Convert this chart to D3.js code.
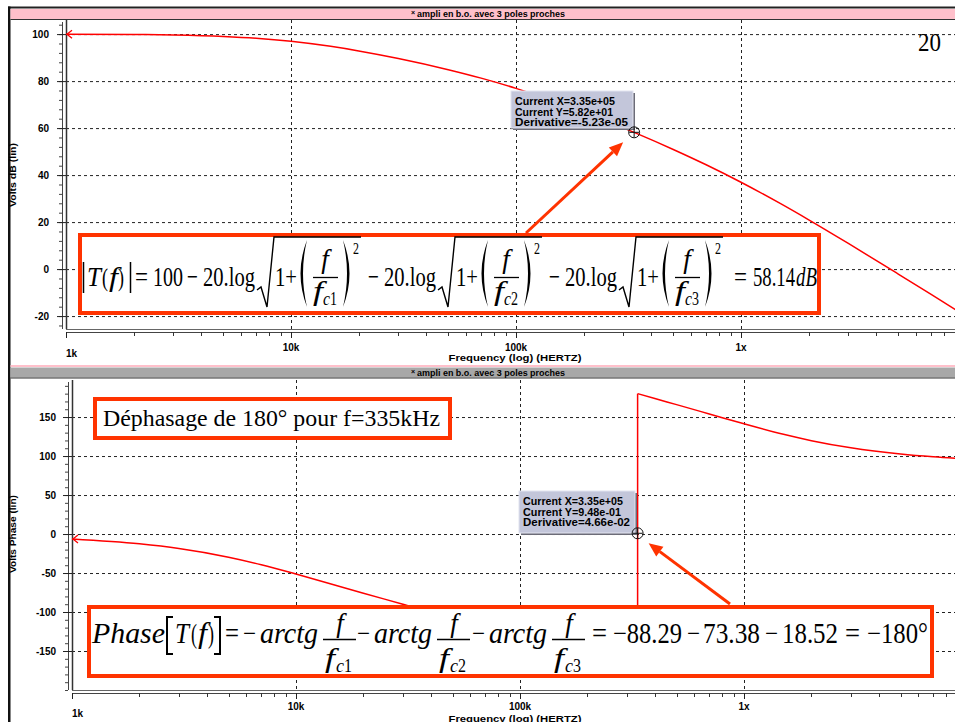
<!DOCTYPE html>
<html>
<head>
<meta charset="utf-8">
<script src="https://cdn.jsdelivr.net/npm/d3@7"></script>
<style>
  body { margin: 0; background: #fff; }
  svg { display: block; }
</style>
</head>
<body>
<svg id="chart" width="955" height="722"></svg>
<script>
// valeurs (ampli en b.o., 3 poles)
const freqs = [1e3, 2e3, 3e3, 5e3, 7e3, 1e4, 1.5e4, 2e4, 3e4, 5e4, 7e4, 1e5, 1.5e5, 2e5, 3.35e5, 5e5, 7e5, 1e6, 1.5e6, 2e6, 3e6, 5e6, 7e6, 1e7];
const gainDb = [99.96, 99.83, 99.62, 99.02, 98.25, 96.95, 94.78, 92.84, 89.62, 84.87, 81.26, 76.91, 71.24, 66.81, 58.17, 50.90, 44.38, 36.95, 27.82, 20.96, 10.91, -2.11, -10.79, -20.04];

const phaseFreqsLow = [1e3, 2e3, 3e3, 5e3, 7e3, 1e4, 1.5e4, 2e4, 3e4, 5e4, 7e4, 1e5, 1.5e5, 2e5, 2.5e5, 3e5, 3.35e5];
const phaseLow = [-6.34, -12.57, -18.59, -29.72, -39.39, -51.28, -65.70, -75.89, -89.99, -108.12, -120.86, -135.00, -151.03, -161.88, -169.95, -176.36, -180.0];
const phaseFreqsHigh = [3.35e5, 4e5, 5e5, 7e5, 1e6, 1.5e6, 2e6, 3e6, 5e6, 7e6, 1e7];
const phaseHigh = [180.0, 173.67, 165.89, 153.96, 141.28, 127.88, 119.72, 110.53, 102.57, 99.03, 96.34];

const cursorFreq = 3.35e5;
const cursorGain = 58.2;
const cursorPhase = 0.948;
const cursorGainText = ['Current X=3.35e+05', 'Current Y=5.82e+01', 'Derivative=-5.23e-05'];
const cursorPhaseText = ['Current X=3.35e+05', 'Current Y=9.48e-01', 'Derivative=4.66e-02'];

const gainTicks = [100, 80, 60, 40, 20, 0, -20];
const phaseTicks = [150, 100, 50, 0, -50, -100, -150];
const decadeTicks = [1e3, 1e4, 1e5, 1e6, 1e7];
const decadeLabels = ['1k', '10k', '100k', '1x', '10x'];
const titleText = 'ampli en b.o. avec 3 poles proches';

const RED = '#ff0000', ORANGE = '#ff3300';
const sans = 'Liberation Sans, Arial, Helvetica, sans-serif';
const serif = 'Liberation Serif, Times New Roman, serif';

const svg = d3.select('#chart');
svg.append('rect').attr('width', 955).attr('height', 722).attr('fill', '#fff');

function tx(g, x, y, s, o) {
    o = o || {};
    const t = g.append('text')
        .attr('x', x).attr('y', y)
        .attr('font-family', o.fam || serif)
        .attr('font-size', o.size || 28)
        .attr('font-style', o.it ? 'italic' : null)
        .attr('font-weight', o.bold ? 'bold' : null)
        .attr('text-anchor', o.anchor || null)
        .attr('fill', o.fill || '#000')
        .text(s);
    if (o.w) t.attr('textLength', o.w).attr('lengthAdjust', 'spacingAndGlyphs');
    return t;
}

// cadre de la fenetre
svg.append('rect').attr('x', 8).attr('y', 6.5).attr('width', 947).attr('height', 2).attr('fill', '#222');
svg.append('rect').attr('x', 8).attr('y', 6.5).attr('width', 2.5).attr('height', 716).attr('fill', '#111');

function titleBar(yTop, fill) {
    svg.append('rect').attr('x', 10.5).attr('y', yTop).attr('width', 945).attr('height', 10).attr('fill', fill);
    svg.append('line').attr('x1', 10.5).attr('x2', 955).attr('y1', yTop + 10.5).attr('y2', yTop + 10.5)
        .attr('stroke', '#333').attr('stroke-width', 1);
    tx(svg, 411, yTop + 6, '×', {fam: sans, size: 7, bold: true});
    tx(svg, 417, yTop + 8, titleText, {fam: sans, size: 9, bold: true, w: 148});
}

function drawPanel(p) {
    const x = d3.scaleLog().domain([1e3, 1e7]).range(p.xRange);
    const y = d3.scaleLinear().domain(p.yDomain).range([p.plotBottom, p.plotTop]);
    const g = svg.append('g');

    // grille
    g.selectAll('line.hgrid').data(p.ticks).join('line')
        .attr('x1', p.plotLeft).attr('x2', 955)
        .attr('y1', d => y(d) + 0.5).attr('y2', d => y(d) + 0.5)
        .attr('stroke', '#222').attr('stroke-dasharray', '3,3');
    g.selectAll('line.vgrid').data(decadeTicks.slice(1, 4)).join('line')
        .attr('x1', d => Math.round(x(d)) + 0.5).attr('x2', d => Math.round(x(d)) + 0.5)
        .attr('y1', p.plotTop).attr('y2', p.plotBottom)
        .attr('stroke', '#222').attr('stroke-dasharray', '3,3');

    // bord du trace
    g.append('line').attr('x1', p.plotLeft + 0.5).attr('x2', p.plotLeft + 0.5)
        .attr('y1', p.plotTop).attr('y2', p.plotBottom).attr('stroke', '#333').attr('stroke-width', 1.5);
    g.append('line').attr('x1', p.plotLeft).attr('x2', 955)
        .attr('y1', p.plotBottom + 0.5).attr('y2', p.plotBottom + 0.5).attr('stroke', '#666');

    // axe y
    g.append('line').attr('x1', p.axisX + 0.5).attr('x2', p.axisX + 0.5)
        .attr('y1', p.plotTop + 2).attr('y2', p.plotBottom).attr('stroke', '#444');
    const minorVals = d3.range(Math.ceil(p.yDomain[0] / p.minor) * p.minor, p.yDomain[1], p.minor);
    g.selectAll('line.ymin').data(minorVals).join('line')
        .attr('x1', p.axisX - 3).attr('x2', p.axisX)
        .attr('y1', d => y(d) + 0.5).attr('y2', d => y(d) + 0.5).attr('stroke', '#444');
    g.selectAll('line.ymaj').data(p.ticks).join('line')
        .attr('x1', p.axisX - 5).attr('x2', p.plotLeft)
        .attr('y1', d => y(d) + 0.5).attr('y2', d => y(d) + 0.5).attr('stroke', '#222');
    g.selectAll('text.ylab').data(p.ticks).join('text')
        .attr('x', p.labelRight).attr('y', d => y(d) + 4)
        .attr('text-anchor', 'end').attr('font-family', sans).attr('font-size', 10)
        .attr('font-weight', 'bold').text(d => d);
    g.append('text')
        .attr('transform', `translate(${p.yTitleX},${p.yTitleY}) rotate(-90)`)
        .attr('text-anchor', 'middle').attr('font-family', sans).attr('font-size', 9)
        .attr('font-weight', 'bold').attr('textLength', p.yTitleLen).attr('lengthAdjust', 'spacingAndGlyphs')
        .text(p.yTitle);

    // axe x
    g.append('line').attr('x1', p.plotLeft).attr('x2', 955)
        .attr('y1', p.axisY + 0.5).attr('y2', p.axisY + 0.5).attr('stroke', '#444');
    const minorX = [];
    decadeTicks.slice(0, 4).forEach(dec => { for (let k = 2; k < 10; k++) minorX.push(dec * k); });
    g.selectAll('line.xmin').data(minorX).join('line')
        .attr('x1', d => Math.round(x(d)) + 0.5).attr('x2', d => Math.round(x(d)) + 0.5)
        .attr('y1', p.axisY).attr('y2', p.axisY + 4).attr('stroke', '#333');
    g.selectAll('line.xmaj').data(decadeTicks).join('line')
        .attr('x1', d => Math.round(x(d)) + 0.5).attr('x2', d => Math.round(x(d)) + 0.5)
        .attr('y1', p.axisY).attr('y2', p.axisY + 6).attr('stroke', '#222');
    g.selectAll('text.xlab').data(decadeTicks).join('text')
        .attr('x', d => x(d))
        .attr('y', (d, i) => i === 0 ? p.firstLabelY : p.xLabelY)
        .attr('text-anchor', (d, i) => i === 0 ? 'start' : 'middle')
        .attr('font-family', sans).attr('font-size', 10).attr('font-weight', 'bold')
        .text((d, i) => decadeLabels[i]);
    g.append('text').attr('x', 515).attr('y', p.freqLabelY).attr('text-anchor', 'middle')
        .attr('font-family', sans).attr('font-size', 9).attr('font-weight', 'bold')
        .attr('textLength', 133).attr('lengthAdjust', 'spacingAndGlyphs')
        .text('Frequency (log) (HERTZ)');

    const clipId = 'clip' + p.plotTop;
    svg.append('clipPath').attr('id', clipId).append('rect')
        .attr('x', p.plotLeft).attr('y', p.plotTop).attr('width', 955 - p.plotLeft).attr('height', p.plotBottom - p.plotTop);
    const curves = svg.append('g').attr('clip-path', `url(#${clipId})`);
    return {x, y, g, curves};
}

function cursorBox(bx, by, bw, bh, lines, widths, cx, cy) {
    const g = svg.append('g');
    g.append('rect').attr('x', bx + 2).attr('y', by + 2).attr('width', bw).attr('height', bh).attr('fill', '#6c6c78');
    g.append('rect').attr('x', bx).attr('y', by).attr('width', bw).attr('height', bh)
        .attr('fill', '#c3c6da').attr('stroke', '#e2e4f0').attr('stroke-width', 1);
    lines.forEach((s, i) => {
        tx(g, bx + 4, by + 14 + i * 10.5, s, {fam: sans, size: 10, bold: true, w: widths[i]});
    });
    g.append('circle').attr('cx', cx).attr('cy', cy).attr('r', 5.5).attr('fill', 'none').attr('stroke', '#111');
    g.append('line').attr('x1', cx - 5).attr('x2', cx + 5).attr('y1', cy).attr('y2', cy).attr('stroke', '#111');
    g.append('line').attr('x1', cx).attr('x2', cx).attr('y1', cy - 5).attr('y2', cy + 5).attr('stroke', '#111');
}

function arrow(x1, y1, x2, y2) {
    const a = Math.atan2(y2 - y1, x2 - x1), L = 14, W = 6;
    const bx = x2 - L * Math.cos(a), by = y2 - L * Math.sin(a);
    svg.append('line').attr('x1', x1).attr('y1', y1).attr('x2', bx).attr('y2', by)
        .attr('stroke', ORANGE).attr('stroke-width', 3);
    const px = -Math.sin(a) * W, py = Math.cos(a) * W;
    svg.append('path').attr('d', `M${x2},${y2} L${bx + px},${by + py} L${bx - px},${by - py} Z`).attr('fill', ORANGE);
}

function paren(g, x, y0, y1, right) {
    const m = (y0 + y1) / 2;
    const d = right
        ? `M${x + 1},${y0} Q${x + 14},${m} ${x + 1},${y1} Q${x + 9},${m} ${x + 1},${y0} Z`
        : `M${x + 9},${y0} Q${x - 4},${m} ${x + 9},${y1} Q${x + 1},${m} ${x + 9},${y0} Z`;
    g.append('path').attr('d', d).attr('fill', '#000');
}

function startArrow(g, x0, y0) {
    g.append('path').attr('d', `M${x0 + 6},${y0 - 4} L${x0 + 1},${y0} L${x0 + 6},${y0 + 4}`)
        .attr('fill', 'none').attr('stroke', RED).attr('stroke-width', 1.3);
}

// ---------- panneau haut : gain ----------
titleBar(9, '#ffc0cb');
const gainPanel = drawPanel({
    plotLeft: 66, axisX: 62, plotTop: 20, plotBottom: 329, axisY: 332,
    xRange: [66, 966], yDomain: [-25.5, 106], ticks: gainTicks, minor: 4, labelRight: 49,
    yTitle: 'Volts dB (lin)', yTitleX: 16, yTitleY: 175, yTitleLen: 64,
    xLabelY: 351, firstLabelY: 357, freqLabelY: 361
});
const gainLine = d3.line().x((d, i) => gainPanel.x(freqs[i])).y(d => gainPanel.y(d)).curve(d3.curveMonotoneX);
gainPanel.curves.append('path').datum(gainDb).attr('d', gainLine)
    .attr('fill', 'none').attr('stroke', RED).attr('stroke-width', 1.5);
startArrow(svg, gainPanel.x(freqs[0]), gainPanel.y(gainDb[0]));

// ---------- panneau bas : phase ----------
svg.append('rect').attr('x', 10.5).attr('y', 365).attr('width', 945).attr('height', 2).attr('fill', '#ffc0cb');
titleBar(367.5, '#a8a8a8');
const phasePanel = drawPanel({
    plotLeft: 72, axisX: 68, plotTop: 380, plotBottom: 690, axisY: 693,
    xRange: [72, 968], yDomain: [-200, 197.5], ticks: phaseTicks, minor: 10, labelRight: 56,
    yTitle: 'Volts Phase (lin)', yTitleX: 16, yTitleY: 534, yTitleLen: 78,
    xLabelY: 710, firstLabelY: 717, freqLabelY: 722
});
const phaseLineLow = d3.line().x((d, i) => phasePanel.x(phaseFreqsLow[i])).y(d => phasePanel.y(d)).curve(d3.curveMonotoneX);
const phaseLineHigh = d3.line().x((d, i) => phasePanel.x(phaseFreqsHigh[i])).y(d => phasePanel.y(d)).curve(d3.curveMonotoneX);
phasePanel.curves.append('path').datum(phaseLow).attr('d', phaseLineLow)
    .attr('fill', 'none').attr('stroke', RED).attr('stroke-width', 1.5);
phasePanel.curves.append('path').datum(phaseHigh).attr('d', phaseLineHigh)
    .attr('fill', 'none').attr('stroke', RED).attr('stroke-width', 1.5);
phasePanel.curves.append('line')
    .attr('x1', phasePanel.x(phaseFreqsLow[phaseFreqsLow.length - 1])).attr('y1', phasePanel.y(phaseLow[phaseLow.length - 1]))
    .attr('x2', phasePanel.x(phaseFreqsHigh[0])).attr('y2', phasePanel.y(phaseHigh[0]))
    .attr('stroke', RED).attr('stroke-width', 1.5);
startArrow(svg, phasePanel.x(phaseFreqsLow[0]), phasePanel.y(phaseLow[0]));

// ---------- curseurs ----------
const cgx = gainPanel.x(cursorFreq), cgy = gainPanel.y(cursorGain);
cursorBox(511, 91, 122, 37, cursorGainText, [100, 98, 113], cgx, cgy);
const cpx = phasePanel.x(cursorFreq), cpy = phasePanel.y(cursorPhase);
cursorBox(519, 491, 116, 42, cursorPhaseText, [100, 98, 107], cpx, cpy);

// ---------- formule du module ----------
const f1 = svg.append('g');
f1.append('rect').attr('x', 80).attr('y', 235).attr('width', 739).attr('height', 78)
    .attr('fill', '#fff').attr('stroke', ORANGE).attr('stroke-width', 4);
f1.append('line').attr('x1', 83.5).attr('x2', 83.5).attr('y1', 262).attr('y2', 293).attr('stroke', '#000').attr('stroke-width', 1.5);
tx(f1, 87, 286, 'T', {it: true, w: 14});
tx(f1, 102, 286, '(', {size: 26, w: 6});
tx(f1, 109, 286, 'f', {it: true, w: 9});
tx(f1, 118, 286, ')', {size: 26, w: 6});
f1.append('line').attr('x1', 130.5).attr('x2', 130.5).attr('y1', 262).attr('y2', 293).attr('stroke', '#000').attr('stroke-width', 1.5);
tx(f1, 135, 286, '=', {w: 13});
tx(f1, 153, 286, '100', {w: 30});

function gainTerm(s, idx) {
    tx(f1, s, 286, '−', {w: 11});
    tx(f1, s + 16, 286, '20.log', {w: 52});
    f1.append('path').attr('d', `M${s + 70},290 L${s + 74},287 L${s + 80},307 L${s + 87},237 L${s + 174},237`)
        .attr('fill', 'none').attr('stroke', '#000').attr('stroke-width', 1.4);
    tx(f1, s + 88, 286, '1+', {w: 22});
    paren(f1, s + 111, 240, 307, false);
    tx(f1, s + 138, 268, 'f', {it: true, size: 27, anchor: 'middle'});
    f1.append('line').attr('x1', s + 126).attr('x2', s + 151).attr('y1', 277.5).attr('y2', 277.5)
        .attr('stroke', '#000').attr('stroke-width', 1.3);
    tx(f1, s + 126, 300, 'f', {it: true, size: 27, w: 10});
    tx(f1, s + 136, 305, 'c', {it: true, size: 18, w: 7});
    tx(f1, s + 143, 305, String(idx), {size: 18, w: 7});
    paren(f1, s + 155, 240, 307, true);
    tx(f1, s + 166, 254, '2', {size: 17, w: 6});
}
gainTerm(187, 1);
gainTerm(368, 2);
gainTerm(549, 3);
tx(f1, 734, 286, '=', {w: 13});
tx(f1, 753, 286, '58.14', {w: 42});
tx(f1, 796, 286, 'dB', {it: true, w: 21});

// ---------- formule de la phase ----------
const f2 = svg.append('g');
f2.append('rect').attr('x', 89).attr('y', 607).attr('width', 843).attr('height', 69)
    .attr('fill', '#fff').attr('stroke', ORANGE).attr('stroke-width', 4);
tx(f2, 92, 643, 'Phase', {it: true, size: 29, w: 73});
f2.append('path').attr('d', 'M173,617 L167,617 L167,654 L173,654').attr('fill', 'none').attr('stroke', '#000').attr('stroke-width', 2);
tx(f2, 175, 643, 'T', {it: true, size: 29, w: 14});
tx(f2, 191, 643, '(', {size: 27, w: 6});
tx(f2, 198, 643, 'f', {it: true, size: 29, w: 9});
tx(f2, 208, 643, ')', {size: 27, w: 6});
f2.append('path').attr('d', 'M214,617 L220,617 L220,654 L214,654').attr('fill', 'none').attr('stroke', '#000').attr('stroke-width', 2);
tx(f2, 225, 643, '=', {size: 29, w: 14});

function phaseTerm(s, idx) {
    tx(f2, s, 643, '−', {size: 29, w: 13});
    tx(f2, s + 17, 643, 'arctg', {it: true, size: 29, w: 58});
    tx(f2, s + 97, 632, 'f', {it: true, size: 27, anchor: 'middle'});
    f2.append('line').attr('x1', s + 80).attr('x2', s + 113).attr('y1', 639.5).attr('y2', 639.5)
        .attr('stroke', '#000').attr('stroke-width', 1.3);
    tx(f2, s + 82, 667, 'f', {it: true, size: 27, w: 10});
    tx(f2, s + 93, 672, 'c', {it: true, size: 18, w: 8});
    tx(f2, s + 101, 672, String(idx), {size: 18, w: 8});
}
phaseTerm(243, 1);
phaseTerm(357, 2);
phaseTerm(472, 3);
tx(f2, 592, 643, '=', {size: 29, w: 15});
tx(f2, 613, 643, '−88.29', {size: 29, w: 69});
tx(f2, 687, 643, '−', {size: 29, w: 13});
tx(f2, 703, 643, '73.38', {size: 29, w: 57});
tx(f2, 765, 643, '−', {size: 29, w: 13});
tx(f2, 782, 643, '18.52', {size: 29, w: 56});
tx(f2, 845, 643, '=', {size: 29, w: 15});
tx(f2, 867, 643, '−180°', {size: 29, w: 61});

// ---------- encadre dephasage ----------
svg.append('rect').attr('x', 95).attr('y', 399).attr('width', 355).attr('height', 39)
    .attr('fill', '#fff').attr('stroke', ORANGE).attr('stroke-width', 4);
tx(svg, 103, 426, 'Déphasage de 180° pour f=335kHz', {size: 24, w: 337});

// numero de page
tx(svg, 918, 51, '20', {size: 25, w: 23});

// fleches vers les curseurs
arrow(526, 233, cgx - 11, cgy + 10);
arrow(730, 604, cpx + 11, cpy + 10);
</script>
</body>
</html>
